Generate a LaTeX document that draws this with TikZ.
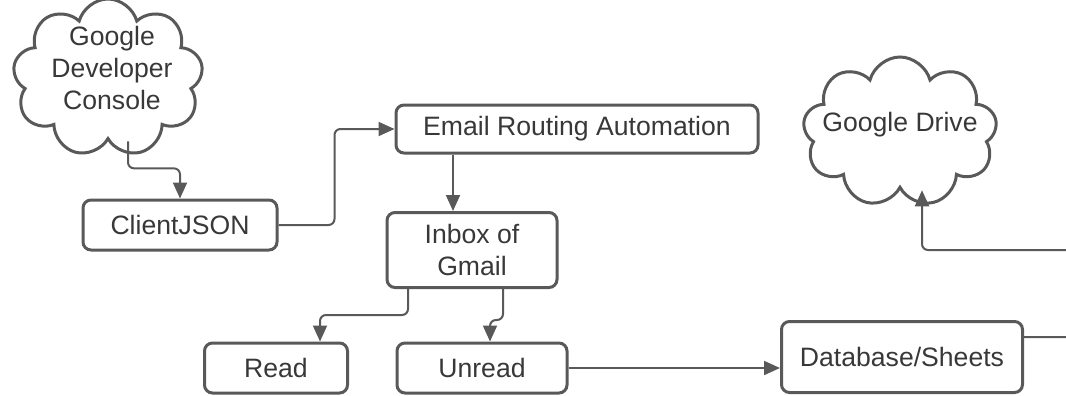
\documentclass[tikz,border=0pt]{standalone}
\usepackage{fontspec}
\setmainfont{Liberation Sans}
\usepackage{tikz}
\usetikzlibrary{shapes,arrows.meta}

\begin{document}
\begin{tikzpicture}[x=0.5pt,y=-0.5pt]
  \tikzstyle{every node}=[font=\fontsize{13.3}{16}\selectfont,text=black!78]
  \tikzstyle{box}=[rectangle,draw=black!65,line width=1.5pt,rounded corners=4pt,align=center,inner sep=0pt]
  \tikzstyle{puff}=[cloud,cloud puffs=9,cloud ignores aspect,draw=black!65,line width=1.5pt,inner sep=0pt]
  \tikzstyle{link}=[draw=black!65,line width=1pt,rounded corners=3pt,-{Triangle[length=8pt,width=7pt]}]
  \useasboundingbox (0,0) rectangle (1066,396);
  \node[puff,minimum width=95pt,minimum height=79pt] (console) at (108,78) {};
  \node[align=center] (consoletext) at (112,68) {Google\\Developer\\Console};
  \node[puff,minimum width=97pt,minimum height=75pt] (drive) at (900,132) {};
  \node (drivetext) at (900,125) {Google Drive};
  \node[box,minimum width=97pt,minimum height=25pt] (client) at (180,225) {ClientJSON};
  \node[box,minimum width=181pt,minimum height=24pt] (email) at (577,129) {Email Routing Automation};
  \node[box,minimum width=85pt,minimum height=37.5pt] (inbox) at (472,250) {Inbox of\\Gmail};
  \node[box,minimum width=71.5pt,minimum height=25pt] (read) at (276,368) {Read};
  \node[box,minimum width=85pt,minimum height=25pt] (unread) at (482,368) {Unread};
  \node[box,minimum width=120.5pt,minimum height=35.5pt] (db) at (902,357) {Database/Sheets};
  \coordinate (bend) at (1090,250);
  \draw[link] ([xshift=10pt]console.south) -- ++(0,27) -| (client.north);
  \draw[link] (client.east) -- ++(56,0) |- (email.west);
  \draw[link] ([xshift=-62pt]email.south) -- ([xshift=-9.5pt]inbox.north);
  \draw[link] ([xshift=-32pt]inbox.south) -- ++(0,26) -| ([xshift=22pt]read.north);
  \draw[link] ([xshift=15.5pt]inbox.south) -- ++(0,31) -| ([xshift=4pt]unread.north);
  \draw[link] (unread.east) -- (db.west |- unread.east);
  \draw[link] ([yshift=10pt]db.east) -| (bend) -| ([xshift=11pt]drive.south);
\end{tikzpicture}
\end{document}
